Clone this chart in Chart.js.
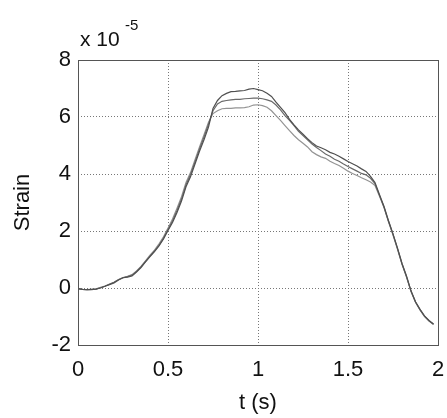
<!DOCTYPE html>
<html>
<head>
<meta charset="utf-8">
<script src="https://cdn.jsdelivr.net/npm/chart.js@4/dist/chart.umd.min.js"></script>
<style>
html,body{margin:0;padding:0;background:#fff;}
#wrap{width:447px;height:418px;position:relative;}
</style>
</head>
<body>
<div id="wrap"><canvas id="c" width="447" height="418"></canvas></div>
<script>
const time = [0,0.025,0.05,0.075,0.1,0.125,0.15,0.175,0.2,0.225,0.25,0.275,0.3,0.325,0.35,0.375,0.4,0.425,0.45,0.475,
  0.5,0.525,0.55,0.575,0.6,0.625,0.65,0.675,0.7,0.725,0.75,0.775,0.8,0.825,0.85,0.875,0.9,0.925,0.95,0.975,
  1.0,1.025,1.05,1.075,1.1,1.125,1.15,1.175,1.2,1.225,1.25,1.275,1.3,1.325,1.35,1.375,1.4,1.425,1.45,1.475,
  1.5,1.525,1.55,1.575,1.6,1.625,1.65,1.675,1.7,1.725,1.75,1.775,1.8,1.825,1.85,1.875,1.9,1.925,1.95,1.975];

const strainHigh = [-0.02,-0.05,-0.06,-0.06,-0.04,0.0,0.06,0.12,0.18,0.28,0.36,0.38,0.42,0.56,0.72,0.92,1.1,1.28,1.48,1.72,
  2.02,2.3,2.65,3.05,3.55,3.9,4.35,4.8,5.2,5.65,6.3,6.58,6.75,6.83,6.89,6.9,6.92,6.93,6.98,7.0,
  6.96,6.92,6.83,6.72,6.52,6.34,6.15,5.92,5.72,5.55,5.4,5.24,5.1,4.98,4.92,4.85,4.76,4.7,4.62,4.53,
  4.44,4.36,4.28,4.18,4.09,3.92,3.7,3.27,2.86,2.36,1.9,1.4,0.86,0.42,-0.1,-0.48,-0.75,-0.98,-1.14,-1.26];

const strainMid = [-0.02,-0.05,-0.06,-0.05,-0.04,0.01,0.06,0.13,0.2,0.29,0.36,0.4,0.45,0.58,0.74,0.93,1.12,1.3,1.5,1.75,
  2.05,2.35,2.72,3.12,3.62,3.98,4.42,4.88,5.3,5.75,6.22,6.46,6.55,6.58,6.6,6.62,6.62,6.64,6.65,6.66,
  6.66,6.64,6.6,6.55,6.42,6.25,6.05,5.88,5.7,5.5,5.35,5.2,5.05,4.93,4.82,4.7,4.62,4.52,4.45,4.35,
  4.26,4.18,4.1,4.02,3.97,3.85,3.66,3.25,2.84,2.34,1.88,1.38,0.85,0.4,-0.11,-0.49,-0.76,-0.99,-1.15,-1.27];

const strainLow = [-0.02,-0.05,-0.06,-0.05,-0.03,0.02,0.07,0.14,0.2,0.3,0.37,0.41,0.47,0.6,0.76,0.95,1.15,1.33,1.55,1.8,
  2.1,2.42,2.8,3.2,3.7,4.05,4.5,4.95,5.38,5.82,6.12,6.22,6.29,6.3,6.3,6.32,6.32,6.33,6.36,6.42,
  6.43,6.4,6.34,6.22,6.05,5.88,5.7,5.52,5.35,5.2,5.08,4.95,4.78,4.68,4.6,4.55,4.45,4.37,4.3,4.2,
  4.1,4.02,3.95,3.87,3.8,3.72,3.6,3.22,2.82,2.32,1.86,1.36,0.83,0.38,-0.12,-0.5,-0.77,-1.0,-1.16,-1.28];

const xTicks = [0,0.5,1,1.5,2];
const yTicks = [-2,0,2,4,6,8];

const toPts = arr => arr.map((v,i)=>({x:time[i], y:v}));
const FONT = '"Liberation Sans", Arial, sans-serif';

const framePlugin = {
  id:'frame',
  afterDraw(chart){
    const {ctx, chartArea:a} = chart;
    ctx.save();
    ctx.strokeStyle = '#555';
    ctx.lineWidth = 1;
    ctx.strokeRect(Math.round(a.left)+0.5, Math.round(a.top)+0.5, Math.round(a.right-a.left), Math.round(a.bottom-a.top));
    ctx.fillStyle = '#111';
    ctx.textBaseline = 'alphabetic';
    ctx.textAlign = 'left';
    ctx.font = '21px ' + FONT;
    ctx.fillText('x 10', 80, 46);
    ctx.font = '15px ' + FONT;
    ctx.fillText('-5', 125, 30);
    ctx.restore();
  }
};

new Chart(document.getElementById('c'), {
  type:'line',
  data:{
    datasets:[
      {data:toPts(strainHigh), borderColor:'#505050', borderWidth:1.2, pointRadius:0, tension:0},
      {data:toPts(strainMid), borderColor:'#6a6a6a', borderWidth:1.2, pointRadius:0, tension:0},
      {data:toPts(strainLow), borderColor:'#939393', borderWidth:1.2, pointRadius:0, tension:0}
    ]
  },
  options:{
    responsive:false,
    animation:false,
    layout:{padding:{top:60, right:9, left:0, bottom:0}},
    plugins:{legend:{display:false}, tooltip:{enabled:false}},
    scales:{
      x:{
        type:'linear', min:0, max:2,
        afterBuildTicks(s){ s.ticks = xTicks.map(v=>({value:v})); },
        afterFit(s){ s.height = 73; s.paddingLeft = 0; s.paddingRight = 0; },
        ticks:{font:{size:22, family:FONT}, color:'#111', padding:12, maxRotation:0,
          callback:v=>String(v)},
        grid:{color:'#777', lineWidth:1, drawTicks:false},
        border:{display:false, dash:[1,2]},
        title:{display:true, text:'t (s)', font:{size:22, family:FONT}, color:'#111', padding:{top:0,bottom:2}}
      },
      y:{
        type:'linear', min:-2, max:8,
        afterBuildTicks(s){ s.ticks = yTicks.map(v=>({value:v})); },
        afterFit(s){ s.width = 78; s.paddingTop = 0; s.paddingBottom = 0; },
        ticks:{font:{size:22, family:FONT}, color:'#111', padding:7,
          callback:v=>String(v)},
        grid:{color:'#777', lineWidth:1, drawTicks:false},
        border:{display:false, dash:[1,2]},
        title:{display:true, text:'Strain', font:{size:22, family:FONT}, color:'#111', padding:{top:10,bottom:0}}
      }
    }
  },
  plugins:[framePlugin]
});
</script>
</body>
</html>
